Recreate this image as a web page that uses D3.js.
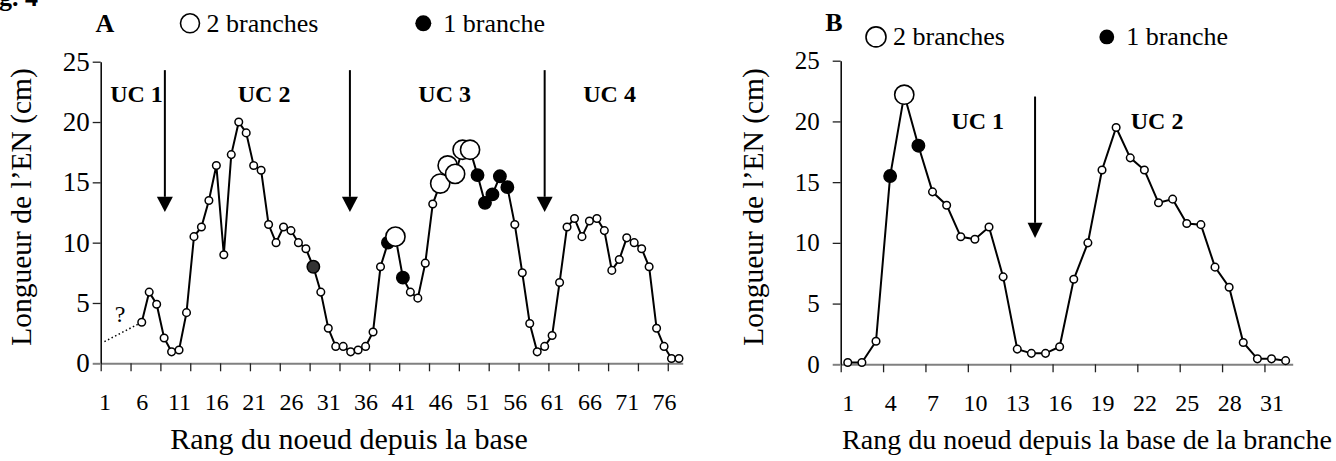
<!DOCTYPE html>
<html><head><meta charset="utf-8">
<script src="https://cdn.jsdelivr.net/npm/d3@7"></script>
<style>
body{margin:0;background:#fff;}
svg text{font-family:"Liberation Serif","Times New Roman",serif;fill:#000;}
</style></head><body>
<svg id="c" width="1336" height="461"></svg>
<script>
// ---------- DATA ----------
const yTickValues = [0, 5, 10, 15, 20, 25];

// Panel A : rank 6..78
const ranksA = d3.range(6, 79);
const valuesA = [3.4, 5.9, 4.9, 2.1, 0.95, 1.1, 4.2, 10.5, 11.3, 13.5,
  16.4, 9.0, 17.3, 20.0, 19.1, 16.4, 16.0, 11.5, 10.0, 11.3,
  11.0, 10.0, 9.5, 8.0, 5.9, 2.9, 1.4, 1.4, 0.95, 1.1,
  1.4, 2.6, 8.0, 10.0, 10.5, 7.1, 5.9, 5.4, 8.3, 13.2,
  14.9, 16.4, 15.7, 17.7, 17.7, 15.6, 13.3, 14.0, 15.5, 14.6,
  11.5, 7.5, 3.3, 0.95, 1.4, 2.3, 6.7, 11.3, 12.0, 10.5,
  11.8, 12.0, 11.0, 7.7, 8.6, 10.4, 10.0, 9.5, 8.0, 2.9,
  1.4, 0.4, 0.4];
// o = no branch, O = 2 branches, f = 1 branche, g = grey
const kindsA = ["o","o","o","o","o","o","o","o","o","o",
  "o","o","o","o","o","o","o","o","o","o",
  "o","o","o","g","o","o","o","o","o","o",
  "o","o","o","f","O","f","o","o","o","o",
  "O","O","O","O","O","f","f","f","f","f",
  "o","o","o","o","o","o","o","o","o","o",
  "o","o","o","o","o","o","o","o","o","o",
  "o","o","o"];
const dottedRanksA = [1, 6];
const dottedValuesA = [1.8, 3.4];
const tickLabelsA = [1, 6, 11, 16, 21, 26, 31, 36, 41, 46, 51, 56, 61, 66, 71, 76];
const ucLabelsA = ["UC 1", "UC 2", "UC 3", "UC 4"];
const ucPosA = [4.8, 21.9, 46.1, 68.2];
const arrowPosA = [8.6, 33.4, 59.5];

// Panel B : rank 1..32
const ranksB = d3.range(1, 33);
const valuesB = [0.15, 0.15, 1.9, 15.5, 22.2, 18.0, 14.2, 13.1, 10.5, 10.3,
  11.3, 7.2, 1.25, 0.9, 0.9, 1.45, 7.0, 10.0, 16.0, 19.5,
  17.0, 16.0, 13.3, 13.6, 11.6, 11.5, 8.0, 6.35, 1.8, 0.45,
  0.45, 0.3];
const kindsB = ["o","o","o","f","O","f","o","o","o","o",
  "o","o","o","o","o","o","o","o","o","o",
  "o","o","o","o","o","o","o","o","o","o",
  "o","o"];
const tickLabelsB = [1, 4, 7, 10, 13, 16, 19, 22, 25, 28, 31];
const ucLabelsB = ["UC 1", "UC 2"];
const ucPosB = [9.7, 22.4];
const arrowPosB = [13.76];

// ---------- DRAW ----------
const svg = d3.select("#c");

svg.append("text").attr("x", -24).attr("y", 6)
  .style("font-weight", "bold").style("font-size", "26px").text("Fig. 4");

function panel(cfg) {
  const x = d3.scaleLinear().domain([0, cfg.nCat]).range([cfg.x0, cfg.x1]);
  const y = d3.scaleLinear().domain([0, 25]).range([cfg.y0, cfg.yTop]);
  const cx = r => x(r - 0.5);
  const g = svg.append("g");

  // x axis: ticks at category boundaries
  const xAx = g.append("g").attr("transform", `translate(0,${cfg.y0})`)
    .call(d3.axisBottom(x).tickValues(d3.range(0, cfg.nCat - 1, cfg.tickEvery))
      .tickSize(8).tickSizeOuter(0).tickFormat(""));
  xAx.select(".domain").attr("stroke", "#808080").attr("stroke-width", 2);
  xAx.selectAll(".tick line").attr("stroke", "#222").attr("stroke-width", 1.3);

  // x labels at category centres
  const xLab = g.append("g").attr("transform", `translate(0,${cfg.y0})`)
    .call(d3.axisBottom(x)
      .tickValues(cfg.tickLabels.map(v => v - 0.5)).tickSize(0).tickPadding(cfg.xLabPad)
      .tickFormat(v => String(v + 0.5)));
  xLab.select(".domain").remove();
  xLab.selectAll("text").style("font-size", cfg.xLabSize + "px")
    .style("font-family", '"Liberation Serif","Times New Roman",serif');

  // y axis
  const yAx = g.append("g").attr("transform", `translate(${cfg.x0},0)`)
    .call(d3.axisLeft(y).tickValues(yTickValues).tickSize(8).tickSizeOuter(0).tickPadding(cfg.yLabPad));
  yAx.select(".domain").attr("stroke", "#000").attr("stroke-width", 1.5);
  yAx.selectAll(".tick line").attr("stroke", "#222").attr("stroke-width", 1.3);
  yAx.selectAll(".tick").filter(d => d === 0).select("line").attr("stroke", "#808080").attr("stroke-width", 2);
  yAx.selectAll("text").style("font-size", cfg.yLabSize + "px")
    .style("font-family", '"Liberation Serif","Times New Roman",serif');

  // axis titles
  g.append("text").attr("transform", `translate(${cfg.yTitleX},${cfg.yTitleY}) rotate(-90)`)
    .attr("text-anchor", "middle").style("font-size", "29.5px").text("Longueur de l\u2019EN (cm)");
  g.append("text").attr("x", cfg.xTitleX).attr("y", 449)
    .attr("text-anchor", "middle").style("font-size", cfg.xTitleSize + "px").text(cfg.xTitle);

  // arrows
  cfg.arrows.forEach(a => {
    const ax = x(a);
    g.append("line").attr("x1", ax).attr("x2", ax).attr("y1", y(cfg.arrowTop)).attr("y2", y(cfg.arrowHead))
      .attr("stroke", "#000").attr("stroke-width", 2);
    g.append("path").attr("d", `M${ax - cfg.headW / 2},${y(cfg.arrowHead)}L${ax + cfg.headW / 2},${y(cfg.arrowHead)}L${ax},${y(cfg.arrowTip)}Z`)
      .attr("fill", "#000");
  });

  // UC labels
  cfg.ucLabels.forEach((t, i) => {
    g.append("text").attr("x", x(cfg.ucPos[i])).attr("y", y(cfg.ucY))
      .attr("text-anchor", "middle").style("font-weight", "bold").style("font-size", "24px").text(t);
  });

  // dotted
  if (cfg.dottedR) {
    g.append("path").datum(cfg.dottedR.map((r, i) => [r, cfg.dottedV[i]]))
      .attr("d", d3.line().x(d => cx(d[0])).y(d => y(d[1])))
      .attr("fill", "none").attr("stroke", "#000").attr("stroke-width", 1.5).attr("stroke-dasharray", "1.5,2.5");
    g.append("text").attr("x", cx(3.1)).attr("y", y(3.4)).attr("text-anchor", "middle")
      .style("font-size", "24px").text("?");
  }

  // line
  const pts = cfg.ranks.map((r, i) => ({ r, v: cfg.values[i], k: cfg.kinds[i] }));
  g.append("path").datum(pts).attr("d", d3.line().x(d => cx(d.r)).y(d => y(d.v)))
    .attr("fill", "none").attr("stroke", "#000").attr("stroke-width", 2);

  const rad = { o: 3.8, O: 9.6, f: 6.2, g: 6.2 };
  const fill = { o: "#fff", O: "#fff", f: "#000", g: "#333" };
  g.selectAll("circle.pt").data(pts).join("circle").attr("class", "pt")
    .attr("cx", d => cx(d.r)).attr("cy", d => y(d.v)).attr("r", d => rad[d.k])
    .attr("fill", d => fill[d.k]).attr("stroke", "#000").attr("stroke-width", d => d.k === "O" ? 1.6 : 1.5);

  // panel letter + legend
  g.append("text").attr("x", cfg.letterX).attr("y", cfg.letterY).attr("text-anchor", "middle")
    .style("font-weight", "bold").style("font-size", "26px").text(cfg.letter);
  g.append("circle").attr("cx", cfg.leg[0]).attr("cy", cfg.leg[1]).attr("r", cfg.leg[2])
    .attr("fill", "#fff").attr("stroke", "#000").attr("stroke-width", 1.6);
  g.append("text").attr("x", cfg.leg[0] + cfg.leg[2] + 7).attr("y", cfg.leg[1] + 8.5)
    .style("font-size", "26px").text("2 branches");
  g.append("circle").attr("cx", cfg.leg[3]).attr("cy", cfg.leg[1]).attr("r", cfg.leg[4]).attr("fill", "#000");
  g.append("text").attr("x", cfg.leg[3] + cfg.leg[4] + 12).attr("y", cfg.leg[1] + 8.5)
    .style("font-size", "26px").text("1 branche");
}

panel({
  nCat: 78, x0: 100.7, x1: 682.7, y0: 363.3, yTop: 61.7, tickEvery: 4,
  tickLabels: tickLabelsA, xLabSize: 24, xLabPad: 30, yLabSize: 27, yLabPad: 3,
  yTitleX: 31, yTitleY: 207, xTitleX: 349, xTitleSize: 30, xTitle: "Rang du noeud depuis la base",
  ranks: ranksA, values: valuesA, kinds: kindsA,
  dottedR: dottedRanksA, dottedV: dottedValuesA,
  arrows: arrowPosA, arrowTop: 24.3, arrowHead: 13.8, arrowTip: 12.55, headW: 16,
  ucLabels: ucLabelsA, ucPos: ucPosA, ucY: 21.7,
  letter: "A", letterX: 105, letterY: 32, leg: [190, 23.3, 9.5, 423.3, 8]
});

panel({
  nCat: 32, x0: 840.7, x1: 1292.7, y0: 364.3, yTop: 60.7, tickEvery: 3,
  tickLabels: tickLabelsB, xLabSize: 24, xLabPad: 30, yLabSize: 25, yLabPad: 13,
  yTitleX: 763, yTitleY: 207, xTitleX: 1087, xTitleSize: 28, xTitle: "Rang du noeud depuis la base de la branche",
  ranks: ranksB, values: valuesB, kinds: kindsB,
  dottedR: null,
  arrows: arrowPosB, arrowTop: 22.05, arrowHead: 11.65, arrowTip: 10.4, headW: 15,
  ucLabels: ucLabelsB, ucPos: ucPosB, ucY: 19.4,
  letter: "B", letterX: 834, letterY: 31, leg: [876, 36.9, 10, 1106.8, 7.4]
});
</script></body></html>
